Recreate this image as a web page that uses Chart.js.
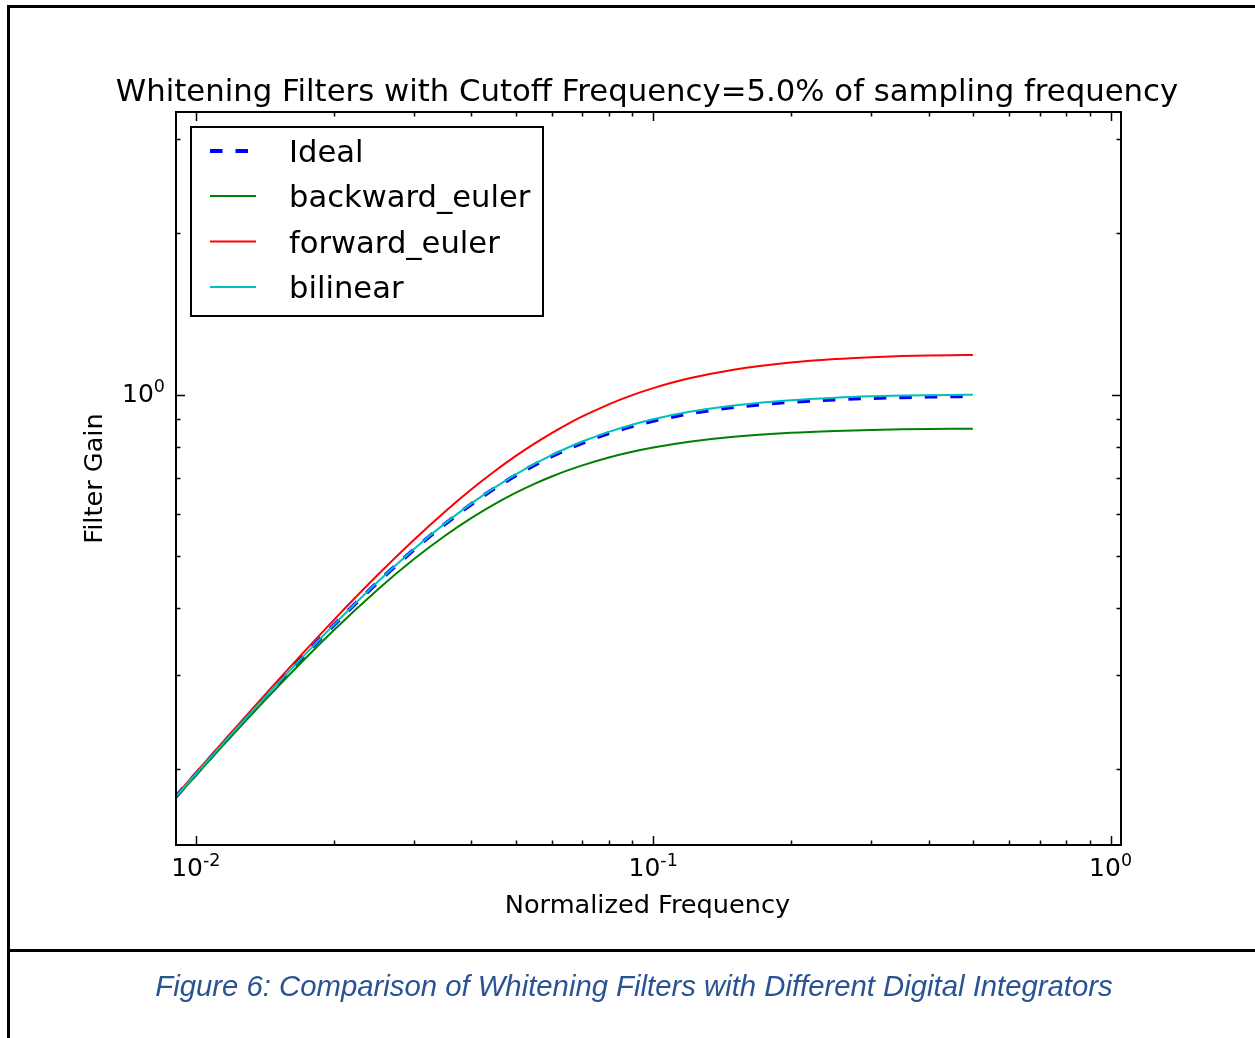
<!DOCTYPE html>
<html><head><meta charset="utf-8">
<script src="https://cdn.jsdelivr.net/npm/chart.js@4.4.0/dist/chart.umd.min.js"></script>
<style>
html,body{margin:0;padding:0;background:#fff;width:1255px;height:1038px;overflow:hidden;}
#wrap{position:relative;width:1255px;height:1038px;}
canvas{position:absolute;left:0;top:0;}
.ln{position:absolute;background:#000;}
#cap{position:absolute;left:634px;top:969px;transform:translateX(-50%);white-space:nowrap;line-height:29px;font:italic 29.3px "Liberation Sans",Arial,sans-serif;color:#2a5394;}
</style></head>
<body><div id="wrap">
<canvas id="c" width="1255" height="1038"></canvas>
<div class="ln" style="left:7px;top:5px;width:1248px;height:3px"></div>
<div class="ln" style="left:7px;top:5px;width:3px;height:1033px"></div>
<div class="ln" style="left:7px;top:949px;width:1248px;height:3px"></div>
<div id="cap">Figure 6: Comparison of Whitening Filters with Different Digital Integrators</div>
</div>
<script>
// ---- data ----
const freq = [0.009,0.01,0.012,0.015,0.02,0.025,0.03,0.035,0.04,0.045,0.05,0.055,0.06,0.065,0.07,0.08,0.09,0.1,0.12,0.15,0.2,0.25,0.3,0.35,0.4,0.45,0.5];
const ideal = [0.1772,0.1961,0.2334,0.2873,0.3714,0.4472,0.5145,0.5735,0.6247,0.6690,0.7071,0.7399,0.7682,0.7926,0.8137,0.8480,0.8742,0.8944,0.9231,0.9487,0.9701,0.9806,0.9864,0.9899,0.9923,0.9939,0.9950];
const backwardEuler = [0.1763,0.1949,0.2314,0.2836,0.3634,0.4335,0.4939,0.5453,0.5888,0.6254,0.6562,0.6822,0.7041,0.7228,0.7387,0.7640,0.7830,0.7974,0.8175,0.8351,0.8495,0.8564,0.8601,0.8622,0.8634,0.8641,0.8643];
const forwardEuler = [0.1780,0.1973,0.2353,0.2911,0.3795,0.4616,0.5367,0.6047,0.6657,0.7201,0.7683,0.8110,0.8486,0.8819,0.9112,0.9601,0.9986,1.0291,1.0734,1.1142,1.1492,1.1663,1.1756,1.1810,1.1842,1.1858,1.1864];
const bilinear = [0.1772,0.1962,0.2335,0.2875,0.3718,0.4480,0.5156,0.5750,0.6267,0.6714,0.7100,0.7433,0.7721,0.7967,0.8182,0.8530,0.8797,0.9003,0.9295,0.9556,0.9774,0.9879,0.9936,0.9968,0.9987,0.9997,1.0000];
const seriesNames = ['Ideal','backward_euler','forward_euler','bilinear'];
const xMajorTicks = [0.01, 0.1, 1];
const xTickLabels = [['10','-2'],['10','-1'],['10','0']];
const yMajorTicks = [1];
const yTickLabels = [['10','0']];
const titleText = 'Whitening Filters with Cutoff Frequency=5.0% of sampling frequency';
const xTitle = 'Normalized Frequency';
const yTitle = 'Filter Gain';

const pts = arr => freq.map((f,i)=>({x:f,y:arr[i]}));
const FONT = '"DejaVu Sans", sans-serif';
const colors = ['#0000ff','#008000','#ff0000','#00bfbf'];

function minorTicks(min,max){
  const out=[];
  for(let e=-4;e<=1;e++){const d=Math.pow(10,e);for(let k=2;k<=9;k++){const v=k*d;if(v>min&&v<max)out.push(v);}}
  return out;
}

const deco = {
  id:'deco',
  afterDraw(chart){
    const ctx=chart.ctx, a=chart.chartArea, xs=chart.scales.x, ys=chart.scales.y;
    ctx.save();
    ctx.strokeStyle='#000'; ctx.lineWidth=2; ctx.setLineDash([]);
    ctx.strokeRect(a.left,a.top,a.right-a.left,a.bottom-a.top);
    ctx.lineWidth=1.5;
    const tick=(v,len,axis)=>{
      if(axis==='x'){const p=Math.round(xs.getPixelForValue(v))+0.5;
        ctx.beginPath();ctx.moveTo(p,a.bottom);ctx.lineTo(p,a.bottom-len);ctx.moveTo(p,a.top);ctx.lineTo(p,a.top+len);ctx.stroke();}
      else{const p=Math.round(ys.getPixelForValue(v))+0.5;
        ctx.beginPath();ctx.moveTo(a.left,p);ctx.lineTo(a.left+len,p);ctx.moveTo(a.right,p);ctx.lineTo(a.right-len,p);ctx.stroke();}
    };
    xMajorTicks.forEach(v=>tick(v,9,'x'));
    minorTicks(xs.min,xs.max).forEach(v=>tick(v,4.5,'x'));
    yMajorTicks.forEach(v=>tick(v,9,'y'));
    minorTicks(ys.min,ys.max).forEach(v=>tick(v,4.5,'y'));
    // tick labels
    ctx.fillStyle='#000'; ctx.textBaseline='alphabetic';
    const bf='25px '+FONT, sf='17.5px '+FONT;
    xMajorTicks.forEach((v,i)=>{
      const [b,s]=xTickLabels[i];
      ctx.font=bf; const wb=ctx.measureText(b).width;
      ctx.font=sf; const ws=ctx.measureText(s).width;
      const x0=xs.getPixelForValue(v)-(wb+ws)/2;
      ctx.textAlign='left';
      ctx.font=bf; ctx.fillText(b,x0,876);
      ctx.font=sf; ctx.fillText(s,x0+wb,866);
    });
    yMajorTicks.forEach((v,i)=>{
      const [b,s]=yTickLabels[i];
      ctx.font=bf; const wb=ctx.measureText(b).width;
      ctx.font=sf; const ws=ctx.measureText(s).width;
      const y=ys.getPixelForValue(v);
      const x0=a.left-11-wb-ws;
      ctx.textAlign='left';
      ctx.font=bf; ctx.fillText(b,x0,y+7);
      ctx.font=sf; ctx.fillText(s,x0+wb,y-3);
    });
    // axis titles
    ctx.font='25.6px '+FONT; ctx.textAlign='center';
    ctx.fillText(xTitle,(a.left+a.right)/2-1,913);
    ctx.save(); ctx.translate(102,(a.top+a.bottom)/2); ctx.rotate(-Math.PI/2);
    ctx.fillText(yTitle,0,0); ctx.restore();
    // title
    ctx.font='30.75px '+FONT; ctx.textAlign='center';
    ctx.fillText(titleText,(a.left+a.right)/2-1.5,101);
    // legend
    const lx=191, ly=127, lw=352, lh=189;
    ctx.fillStyle='#fff'; ctx.fillRect(lx,ly,lw,lh);
    ctx.strokeStyle='#000'; ctx.lineWidth=2; ctx.strokeRect(lx,ly,lw,lh);
    const rows=[151,196,241.5,287];
    const ds=chart.data.datasets;
    seriesNames.forEach((n,i)=>{
      const d=ds.find(q=>q.label===n);
      ctx.strokeStyle=d.borderColor; ctx.lineWidth=d.borderWidth; ctx.setLineDash(d.borderDash||[]);
      ctx.lineCap='butt';
      ctx.beginPath(); ctx.moveTo(210,rows[i]); ctx.lineTo(256,rows[i]); ctx.stroke();
      ctx.setLineDash([]);
      ctx.fillStyle='#000'; ctx.font='30.6px '+FONT; ctx.textAlign='left';
      ctx.fillText(n,289,rows[i]+11);
    });
    ctx.restore();
  }
};

new Chart(document.getElementById('c'),{
  type:'line',
  data:{datasets:[
    {label:seriesNames[0],data:pts(ideal),borderColor:colors[0],borderWidth:4,borderDash:[12.5,13],order:3},
    {label:seriesNames[1],data:pts(backwardEuler),borderColor:colors[1],borderWidth:2,order:2},
    {label:seriesNames[2],data:pts(forwardEuler),borderColor:colors[2],borderWidth:2,order:1},
    {label:seriesNames[3],data:pts(bilinear),borderColor:colors[3],borderWidth:2,order:0}
  ]},
  options:{
    responsive:false, animation:false, devicePixelRatio:1,
    layout:{padding:{left:176,top:112,right:134,bottom:193}},
    elements:{point:{radius:0},line:{cubicInterpolationMode:'monotone',fill:false}},
    plugins:{legend:{display:false},title:{display:false},tooltip:{enabled:false}},
    scales:{
      x:{type:'logarithmic',min:0.00905,max:1.054,display:false},
      y:{type:'logarithmic',min:0.1446,max:3.37,display:false}
    }
  },
  plugins:[deco]
});
</script>
</body></html>
